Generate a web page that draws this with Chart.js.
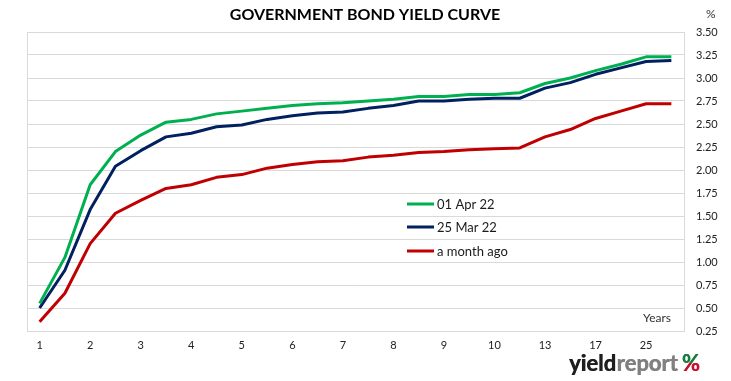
<!DOCTYPE html>
<html>
<head>
<meta charset="utf-8">
<script src="https://cdn.jsdelivr.net/npm/chart.js@4/dist/chart.umd.min.js"></script>
<style>
  html, body { margin: 0; padding: 0; background: #fff; }
  #wrap { width: 731px; height: 381px; position: relative; }
</style>
</head>
<body>
<div id="wrap"><canvas id="c" width="731" height="381"></canvas></div>
<script>
// Maturities (years); only every other one is labelled on the axis
const maturities = ['1','1.5','2','2.5','3','3.5','4','4.5','5','5.5','6','6.5','7','7.5','8','8.5','9','9.5','10','11','13','15','17','20','25','30'];

const apr01 = [0.55,1.05,1.84,2.20,2.38,2.52,2.55,2.61,2.64,2.67,2.70,2.72,2.73,2.75,2.77,2.80,2.80,2.82,2.82,2.84,2.94,3.00,3.08,3.15,3.23,3.23];
const mar25 = [0.50,0.91,1.57,2.04,2.21,2.36,2.40,2.47,2.49,2.55,2.59,2.62,2.63,2.67,2.70,2.75,2.75,2.77,2.78,2.78,2.89,2.95,3.04,3.11,3.18,3.19];
const monthAgo = [0.35,0.66,1.20,1.53,1.67,1.80,1.84,1.92,1.95,2.02,2.06,2.09,2.10,2.14,2.16,2.19,2.20,2.22,2.23,2.24,2.36,2.44,2.56,2.64,2.72,2.72];

const seriesNames = ['01 Apr 22', '25 Mar 22', 'a month ago'];
const yTicks = [0.25,0.50,0.75,1.00,1.25,1.50,1.75,2.00,2.25,2.50,2.75,3.00,3.25,3.50];
const chartTitle = 'GOVERNMENT BOND YIELD CURVE';

const FONT = 'Lato, "Liberation Sans", sans-serif';

const extras = {
  id: 'extras',
  afterDraw(chart) {
    const ctx = chart.ctx;
    const ca = chart.chartArea;
    ctx.save();
    // title
    ctx.font = 'bold 16px ' + FONT;
    ctx.fillStyle = '#000';
    ctx.textAlign = 'center';
    ctx.textBaseline = 'middle';
    ctx.fillText(chartTitle, 365, 15);
    // legend inside plot
    ctx.font = '13px ' + FONT;
    ctx.textAlign = 'left';
    const ly = [204, 227, 251];
    chart.data.datasets.forEach((ds, i) => {
      ctx.strokeStyle = ds.borderColor;
      ctx.lineWidth = 3;
      ctx.beginPath();
      ctx.moveTo(407, ly[i]);
      ctx.lineTo(434, ly[i]);
      ctx.stroke();
      ctx.fillStyle = '#1a1a1a';
      ctx.fillText(ds.label, 437, ly[i] + 1);
    });
    // Years label
    ctx.font = '12px ' + FONT;
    ctx.fillStyle = '#333';
    ctx.textAlign = 'right';
    ctx.fillText('Years', ca.right - 13, ca.bottom - 13);
    // % unit
    ctx.textAlign = 'left';
    ctx.font = '12px ' + FONT;
    ctx.fillText('%', 706, 14);
    // logo
    ctx.textBaseline = 'alphabetic';
    ctx.font = 'bold 22px ' + FONT;
    let x = 569;
    const by = 371;
    ctx.fillStyle = '#1e1e1e';
    ctx.fillText('yield', x, by);
    ctx.fillText('yield', x + 0.6, by);
    x += ctx.measureText('yield').width + 0.6;
    ctx.fillStyle = '#808080';
    ctx.fillText('report', x, by);
    ctx.fillText('report', x + 0.6, by);
    x += ctx.measureText('report').width + 4;
    const g = ctx.createLinearGradient(0, by - 16, 0, by);
    g.addColorStop(0, '#1a7a3a');
    g.addColorStop(0.5, '#1a7a3a');
    g.addColorStop(0.5, '#c8102e');
    g.addColorStop(1, '#c8102e');
    ctx.fillStyle = g;
    ctx.fillText('%', x, by);
    ctx.fillText('%', x + 0.6, by);
    ctx.restore();
  }
};

new Chart(document.getElementById('c'), {
  type: 'line',
  data: {
    labels: maturities,
    datasets: [
      { label: seriesNames[0], data: apr01, borderColor: '#00b050', backgroundColor: '#00b050' },
      { label: seriesNames[1], data: mar25, borderColor: '#002060', backgroundColor: '#002060' },
      { label: seriesNames[2], data: monthAgo, borderColor: '#c00000', backgroundColor: '#c00000' }
    ]
  },
  options: {
    responsive: false,
    animation: false,
    devicePixelRatio: 1,
    layout: { padding: { left: 27, right: 0, top: 32, bottom: 0 } },
    elements: {
      line: { borderWidth: 3, tension: 0, borderJoinStyle: 'round' },
      point: { radius: 0, hoverRadius: 0 }
    },
    plugins: {
      legend: { display: false },
      tooltip: { enabled: false },
      title: { display: false }
    },
    scales: {
      x: {
        type: 'category',
        offset: true,
        grid: { display: false, drawTicks: false },
        border: { display: true, color: '#d9d9d9', width: 1 },
        ticks: {
          autoSkip: false,
          maxRotation: 0,
          padding: 8,
          color: '#222',
          font: { family: FONT, size: 11 },
          callback: function(v, i) { return i % 2 === 0 ? this.getLabelForValue(v) : ''; }
        },
        afterFit(s) { s.height = 50; }
      },
      y: {
        position: 'right',
        min: 0.25,
        max: 3.5,
        afterBuildTicks(s) { s.ticks = yTicks.map(v => ({ value: v })); },
        grid: { color: '#d9d9d9', lineWidth: 1, drawTicks: false },
        border: { display: true, color: '#d9d9d9', width: 1 },
        ticks: {
          padding: 12,
          color: '#222',
          font: { family: FONT, size: 11 },
          callback: v => v.toFixed(2)
        },
        afterFit(s) { s.width = 47; }
      }
    }
  },
  plugins: [extras, {
    id: 'frame',
    beforeDatasetsDraw(chart) {
      const { ctx, chartArea: a } = chart;
      ctx.save();
      ctx.strokeStyle = '#d9d9d9';
      ctx.lineWidth = 1;
      ctx.strokeRect(Math.round(a.left) + 0.5, Math.round(a.top) + 0.5, Math.round(a.right - a.left), Math.round(a.bottom - a.top));
      ctx.restore();
    }
  }]
});
</script>
</body>
</html>
